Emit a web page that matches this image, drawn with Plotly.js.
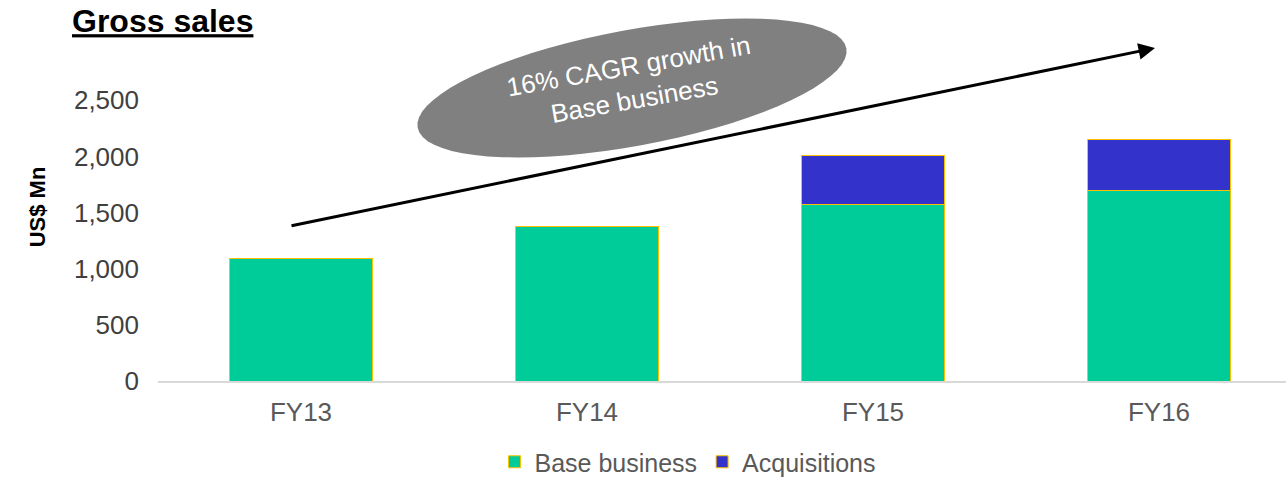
<!DOCTYPE html>
<html>
<head>
<meta charset="utf-8">
<script src="https://cdn.plot.ly/plotly-3.0.1.min.js"></script>
<style>html,body{margin:0;padding:0;background:#fff;}#chart{width:1286px;height:480px;}</style>
</head>
<body>
<div id="chart"></div>
<script>
// ---- data ----
const categories = ["FY13", "FY14", "FY15", "FY16"];
const baseBusiness = [1087, 1372, 1568, 1695];
const acquisitions = [0, 0, 445, 452];
const yTickValues = [0, 500, 1000, 1500, 2000, 2500];
const yTickLabels = ["0", "500", "1,000", "1,500", "2,000", "2,500"];
const seriesNames = ["Base business", "Acquisitions"];

// ---- layout geometry (pixels) ----
const W = 1286, H = 480;
const ML = 158, MR = 0, MT = 33, MB = 99;
const PW = W - ML - MR, PH = H - MT - MB;
const toPX = x => (x - ML) / PW;
const toPY = y => (H - MB - y) / PH;

// Ellipse callout (decoration) built as a path in paper coordinates
function ellipsePath(cx, cy, a, b, deg) {
  const th = deg * Math.PI / 180;
  let d = "";
  const n = 72;
  for (let i = 0; i <= n; i++) {
    const t = 2 * Math.PI * i / n;
    const X = cx + a * Math.cos(t) * Math.cos(th) - b * Math.sin(t) * Math.sin(th);
    const Y = cy - (a * Math.cos(t) * Math.sin(th) + b * Math.sin(t) * Math.cos(th));
    d += (i === 0 ? "M" : "L") + toPX(X).toFixed(5) + "," + toPY(Y).toFixed(5);
  }
  return d + "Z";
}

const FONT = '"Liberation Sans", Arial, sans-serif';
const outline = { color: "#FFC000", width: 1 };

const traces = [
  { type: "bar", name: seriesNames[0], x: categories, y: baseBusiness,
    marker: { color: "#00CC99", line: outline }, width: 0.5, hoverinfo: "x+y+name" },
  { type: "bar", name: seriesNames[1], x: categories, y: acquisitions,
    marker: { color: "#3333CC", line: outline }, width: 0.5, hoverinfo: "x+y+name" }
];

const layout = {
  width: W, height: H,
  margin: { l: ML, r: MR, t: MT, b: MB, autoexpand: false },
  paper_bgcolor: "#fff", plot_bgcolor: "#fff",
  barmode: "stack",
  font: { family: FONT, size: 26, color: "#595959" },
  title: {
    text: "<b><u>Gross sales</u></b>",
    font: { family: FONT, size: 32, color: "#000" },
    x: 72 / W, xref: "container", xanchor: "left",
    y: 1 - 21 / H, yref: "container", yanchor: "middle"
  },
  xaxis: {
    type: "category",
    range: [-0.5, -0.5 + PW / 286],
    showline: true, linecolor: "#D9D9D9", linewidth: 1.5,
    showgrid: false, zeroline: false, ticks: "",
    tickfont: { family: FONT, size: 26, color: "#595959" },
    ticklabelstandoff: 7
  },
  yaxis: {
    range: [0, 3100],
    tickvals: yTickValues, ticktext: yTickLabels,
    showline: false, showgrid: false, zeroline: false, ticks: "",
    tickfont: { family: FONT, size: 26, color: "#404040" },
    ticklabelstandoff: 18,
    title: { text: "<b>US$ Mn</b>", font: { family: FONT, size: 22, color: "#000" }, standoff: 22 }
  },
  legend: {
    orientation: "h",
    x: toPX(688), xanchor: "center",
    y: toPY(462), yanchor: "middle",
    font: { family: FONT, size: 25, color: "#595959" },
    traceorder: "normal", itemwidth: 30
  },
  shapes: [
    { type: "path", xref: "paper", yref: "paper",
      path: ellipsePath(632, 88, 218, 58, 10.5),
      fillcolor: "#808080", line: { width: 0 }, layer: "above" }
  ],
  annotations: [
    { xref: "paper", yref: "paper", x: toPX(1155), y: toPY(48),
      ax: 290 - 1155, ay: 226 - 48, axref: "pixel", ayref: "pixel",
      text: "", showarrow: true, arrowhead: 2, arrowsize: 1.1, arrowwidth: 3,
      arrowcolor: "#000", standoff: 0, startstandoff: 0 },
    { xref: "paper", yref: "paper", x: toPX(631), y: toPY(83),
      xanchor: "center", yanchor: "middle", showarrow: false,
      text: "16% CAGR growth in<br>Base business", textangle: -10,
      font: { family: FONT, size: 26, color: "#fff" } }
  ],
  showlegend: true
};

Plotly.newPlot("chart", traces, layout, { staticPlot: true, displayModeBar: false });
</script>
</body>
</html>
